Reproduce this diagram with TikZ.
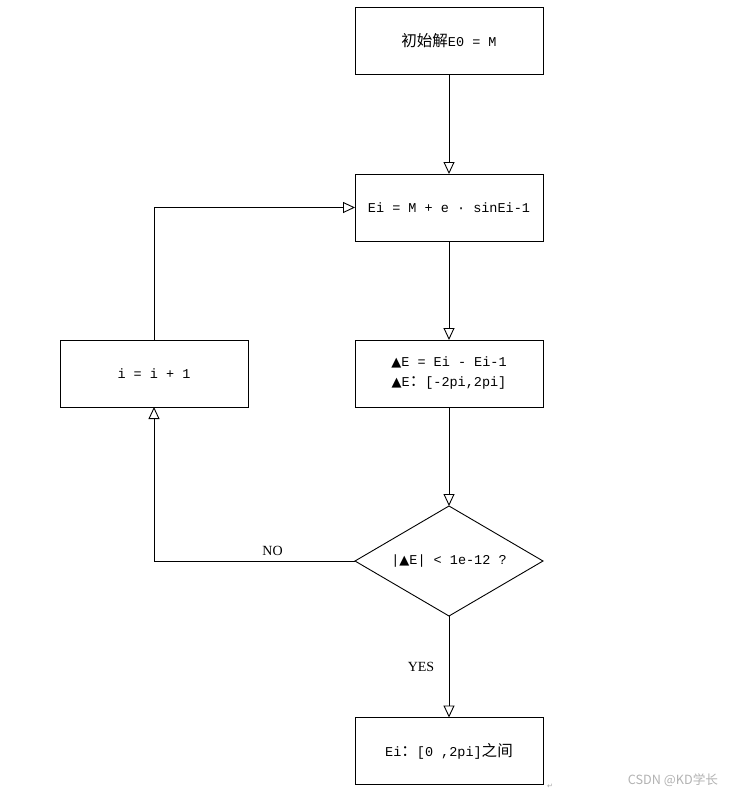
\documentclass[tikz,border=0pt]{standalone}
\usepackage{fontspec}
\setmainfont{Liberation Mono}
\newfontfamily\cjk{Noto Sans CJK SC}[Scale=1.15]
\newfontfamily\dejavu{DejaVu Sans}
\newfontfamily\labelrm{Liberation Serif}
\usetikzlibrary{arrows.meta, shapes.geometric}
\newcommand{\tri}{{\dejavu\fontsize{13}{14}\selectfont ▲}}
\tikzset{
	procbox/.style={
		draw, line width=0.9pt, minimum width=188pt, minimum height=67pt,
		inner sep=0pt, outer sep=0pt, align=center,
		font=\fontsize{13.5}{20}\selectfont
	},
	testbox/.style={
		draw, diamond, line width=0.9pt, minimum width=188pt, minimum height=110pt,
		aspect=1.7, inner sep=0pt, outer sep=0pt,
		font=\fontsize{13.5}{20}\selectfont
	},
	flow/.style={
		-{Triangle[open, width=11pt, length=12pt]}, line width=0.9pt
	},
	branch/.style={font=\labelrm\fontsize{14}{16}\selectfont}
}
\begin{document}
\begin{tikzpicture}[x=1pt, y=-1pt]
	\useasboundingbox (0,0) rectangle (738,796);
	\node[procbox] (init) at (449,40.5) {{\cjk 初始解}E0 = M};
	\node[procbox] (iter) at (449,207.5) {Ei = M + e · sinEi-1};
	\node[procbox] (delta) at (449,373.5) {\tri E = Ei - Ei-1\\\tri E{\cjk ：}[-2pi,2pi]};
	\node[procbox] (incr) at (154,373.5) {i = i + 1};
	\node[testbox] (test) at (449,561) {|\tri E| < 1e-12 ?};
	\node[procbox] (result) at (449,751) {Ei{\cjk ：}[0 ,2pi]{\cjk 之间}};
	% connectors
	\draw[flow]
	(init) edge (iter)
	(iter) edge (delta)
	(delta) edge (test)
	(test) edge node[branch, left, xshift=-11pt] {YES} (result)
	;
	\draw[flow] (test.west) -- node[branch, above, pos=0.41, inner sep=5pt] {NO} (test.west -| incr) -- (incr.south);
	\draw[flow] (incr.north) |- (iter.west);
	% watermark
	\node[text=gray!60, font=\cjk\fontsize{11}{14}\selectfont] (mark) at (673,780) {CSDN @KD学长};
	\node[text=gray!70, font=\dejavu\fontsize{7}{8}\selectfont, inner sep=0pt] (ret) at (550,786) {↵};
\end{tikzpicture}
\end{document}
